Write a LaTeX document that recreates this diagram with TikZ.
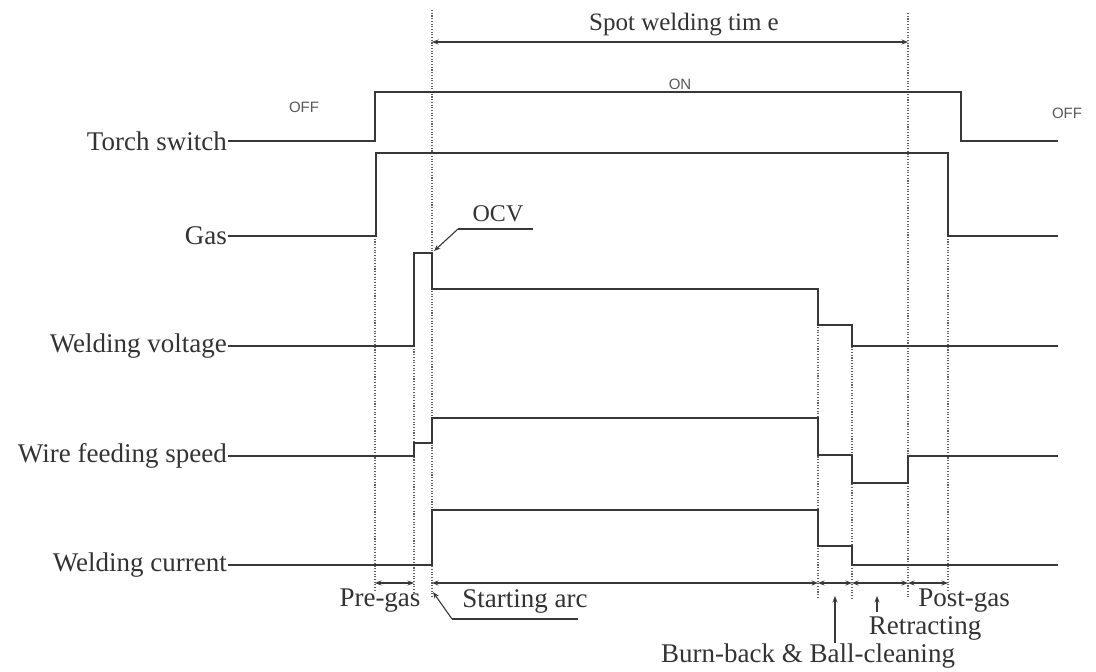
\documentclass[tikz,border=0pt]{standalone}
\usepackage{fontspec}
\setmainfont{Liberation Serif}
\newfontfamily\sansf{Liberation Sans}
\usetikzlibrary{arrows.meta}
\begin{document}
\begin{tikzpicture}[x=1pt,y=-1pt,
  sig/.style={line width=2pt, draw=black!78, line join=miter},
  guide/.style={dash pattern=on 1.1pt off 1.6pt, line width=1.1pt, draw=black!62},
  dim/.style={line width=1.1pt, draw=black!78, {Stealth[length=6.5pt,width=5pt]}-{Stealth[length=6.5pt,width=5pt]}},
  lead/.style={line width=1.1pt, draw=black!78},
  tip/.style={line width=1.1pt, draw=black!78, -{Stealth[length=6.5pt,width=5pt]}},
  lab/.style={font=\fontsize{27}{30}\selectfont, text=black!80, inner sep=1pt},
  small/.style={font=\sansf\fontsize{15}{17}\selectfont, text=black!65, inner sep=1pt}]
\useasboundingbox (0,0) rectangle (1096,672);
\fill[white] (0,0) rectangle (1096,672);

% guide lines (dotted)
\draw[guide] (375,236) -- (375,592);
\draw[guide] (414,346) -- (414,592);
\draw[guide] (432,10) -- (432,598);
\draw[guide] (818,289) -- (818,598);
\draw[guide] (852,325) -- (852,598);
\draw[guide] (908,13) -- (908,598);
\draw[guide] (948,236) -- (948,592);

% row labels
\node[lab, anchor=east] (torch) at (228,141) {Torch switch};
\node[lab, anchor=east] (gas) at (228,236) {Gas};
\node[lab, anchor=east] (volt) at (228,346) {Welding voltage};
\node[lab, anchor=east] (wire) at (228,456) {Wire feeding speed};
\node[lab, anchor=east] (curr) at (228,565) {Welding current};

% signals
\draw[sig] (torch.east) -- (375,141) -- (375,92) -- (961,92) -- (961,141) -- (1058,141);
\draw[sig] (gas.east) -- (376,236) -- (376,153) -- (948,153) -- (948,236) -- (1058,236);
\draw[sig] (volt.east) -- (414,346) -- (414,253) -- (432,253) -- (432,289) -- (818,289) -- (818,325) -- (852,325) -- (852,346) -- (1058,346);
\draw[sig] (wire.east) -- (414,456) -- (414,443) -- (432,443) -- (432,418) -- (818,418) -- (818,455) -- (852,455) -- (852,483) -- (908,483) -- (908,456) -- (1058,456);
\draw[sig] (curr.east) -- (432,565) -- (432,510) -- (818,510) -- (818,546) -- (852,546) -- (852,565) -- (1058,565);

% state labels
\node[small] (off1) at (304,107) {OFF};
\node[small] (on) at (680,84) {ON};
\node[small] (off2) at (1067,113) {OFF};

% spot welding time
\coordinate (sw1) at (432,42);
\coordinate (sw2) at (908,42);
\draw[dim] (sw1) -- (sw2);
\node[lab, font=\fontsize{25}{28}\selectfont] (swt) at (684,25) {Spot welding tim e};

% OCV leader
\node[lab, font=\fontsize{24}{27}\selectfont] (ocv) at (498,214) {OCV};
\coordinate (ocvk) at (458,229);
\coordinate (ocve) at (533,229);
\coordinate (ocvp) at (434,251);
\draw[lead] (ocve) -- (ocvk);
\draw[tip] (ocvk) -- (ocvp);

% bottom dimension arrows
\coordinate (d0) at (375,583);
\coordinate (d1) at (414,583);
\coordinate (d2) at (432,583);
\coordinate (d3) at (818,583);
\coordinate (d4) at (852,583);
\coordinate (d5) at (908,583);
\coordinate (d6) at (948,583);
\draw[dim] (d0) -- (d1);
\draw[dim] (d2) -- (d3);
\draw[dim] (d3) -- (d4);
\draw[dim] (d4) -- (d5);
\draw[dim] (d5) -- (d6);

% bottom labels
\node[lab] (pregas) at (380,601) {Pre-gas};
\node[lab] (sarc) at (525,601) {Starting arc};
\coordinate (sak) at (452,619);
\coordinate (sae) at (578,619);
\coordinate (sap) at (433,592);
\draw[lead] (sae) -- (sak);
\draw[tip] (sak) -- (sap);
\node[lab] (post) at (964,601) {Post-gas};
\node[lab] (retr) at (925,628) {Retracting};
\coordinate (rt0) at (877,612);
\coordinate (rt1) at (877,596);
\draw[tip] (rt0) -- (rt1);
\node[lab] (burn) at (808,656) {Burn-back \& Ball-cleaning};
\coordinate (bb1) at (835,596);
\draw[tip] (burn.north -| bb1) -- (bb1);
\end{tikzpicture}
\end{document}
